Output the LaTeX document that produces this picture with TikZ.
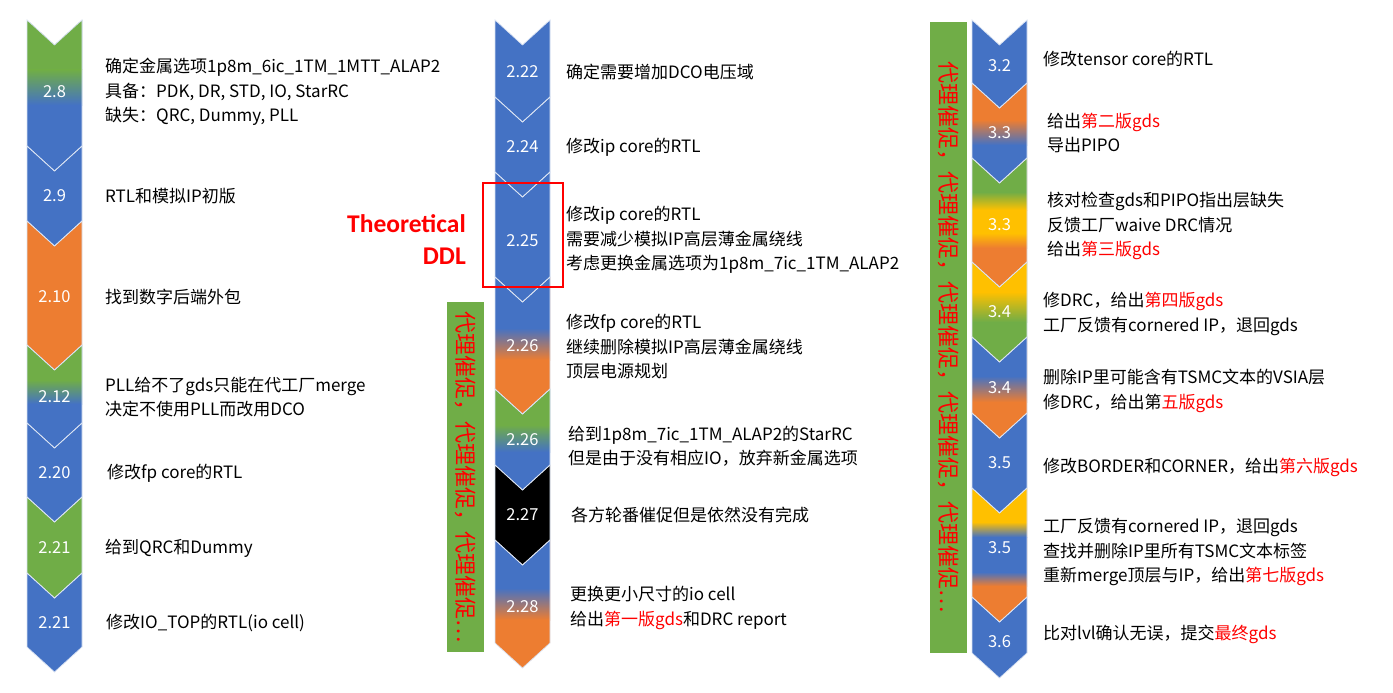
\documentclass[tikz,border=0pt]{standalone}
\usepackage{fontspec}
\usetikzlibrary{positioning}
\newfontfamily\cjk{Noto Sans CJK SC}
\newfontfamily\ddlfont{Carlito}
\definecolor{chblue}{HTML}{4472C4}
\definecolor{chorange}{HTML}{ED7D31}
\definecolor{chgreen}{HTML}{70AD47}
\definecolor{chyellow}{HTML}{FFC000}
\definecolor{ddlred}{HTML}{FF0000}
\tikzset{
  datelabel/.style={text=white, font=\cjk\fontsize{16.5}{18}\selectfont, inner sep=0pt},
  note/.style={anchor=west, align=left, font=\cjk\fontsize{17}{24.5}\selectfont, inner sep=0pt},
  urgebar/.style={fill=chgreen, text=ddlred, rotate=-90, minimum height=37, font=\cjk\fontsize{22}{22}\selectfont, inner sep=0pt},
  ddltext/.style={text=ddlred, font=\ddlfont\bfseries\fontsize{25.5}{32}\selectfont, align=right, anchor=east, inner sep=0pt},
  ddlbox/.style={draw=ddlred, line width=2, minimum width=80, minimum height=104},
  chevborder/.style={draw=white!80!chblue, line width=0.7}
}
\newcommand{\chevpath}[3]{(#1-27.5,#2) -- (#1,#2+25) -- (#1+27.5,#2) -- (#1+27.5,#3) -- (#1,#3+25) -- (#1-27.5,#3) -- cycle}
\newcommand{\red}[1]{\textcolor{ddlred}{#1}}

\begin{document}
\begin{tikzpicture}[x=1pt, y=-1pt]
  \useasboundingbox[fill=white] (0,0) rectangle (1393,693);

  % chevrons, solid fill first
  \foreach \top/\bot/\col in {20/146/chblue, 146/221/chblue, 221/345/chorange, 345/423/chblue,
      423/497/chblue, 497/573/chgreen, 573/647/chblue}
    \fill[\col] \chevpath{54.5}{\top}{\bot};
  \foreach \top/\bot/\col in {20/97/chblue, 97/172/chblue, 172/277/chblue, 277/389/chorange,
      389/465/chblue, 465/540/black, 540/643/chorange}
    \fill[\col] \chevpath{522.5}{\top}{\bot};
  \foreach \top/\bot/\col in {20/83/chblue, 83/158/chblue, 158/262/chorange, 262/337/chgreen,
      337/413/chorange, 413/488/chblue, 488/597/chorange, 597/653/chblue}
    \fill[\col] \chevpath{999.5}{\top}{\bot};

  % colour blends
  \begin{scope}
    \clip \chevpath{54.5}{20}{146};
    \fill[chgreen] (20,0) rectangle (90,70);
    \shade[top color=chgreen, bottom color=chblue] (20,70) rectangle (90,105);
  \end{scope}
  \begin{scope}
    \clip \chevpath{54.5}{345}{423};
    \fill[chgreen] (20,330) rectangle (90,380);
    \shade[top color=chgreen, bottom color=chblue] (20,380) rectangle (90,404);
  \end{scope}
  \begin{scope}
    \clip \chevpath{522.5}{277}{389};
    \fill[chblue] (490,260) rectangle (560,328);
    \shade[top color=chblue, bottom color=chorange] (490,328) rectangle (560,360);
  \end{scope}
  \begin{scope}
    \clip \chevpath{522.5}{389}{465};
    \fill[chgreen] (490,380) rectangle (560,425);
    \shade[top color=chgreen, bottom color=chblue] (490,425) rectangle (560,452);
  \end{scope}
  \begin{scope}
    \clip \chevpath{522.5}{540}{643};
    \fill[chblue] (490,530) rectangle (560,588);
    \shade[top color=chblue, bottom color=chorange] (490,588) rectangle (560,620);
  \end{scope}
  \begin{scope}
    \clip \chevpath{999.5}{83}{158};
    \fill[chorange] (965,70) rectangle (1035,120);
    \shade[top color=chorange, bottom color=chblue] (965,120) rectangle (1035,145);
  \end{scope}
  \begin{scope}
    \clip \chevpath{999.5}{158}{262};
    \fill[chgreen] (965,150) rectangle (1035,192);
    \shade[top color=chgreen, bottom color=chyellow] (965,192) rectangle (1035,210);
    \fill[chyellow] (965,210) rectangle (1035,233);
    \shade[top color=chyellow, bottom color=chorange] (965,233) rectangle (1035,248);
  \end{scope}
  \begin{scope}
    \clip \chevpath{999.5}{262}{337};
    \fill[chyellow] (965,250) rectangle (1035,292);
    \shade[top color=chyellow, bottom color=chgreen] (965,292) rectangle (1035,322);
  \end{scope}
  \begin{scope}
    \clip \chevpath{999.5}{337}{413};
    \fill[chblue] (965,330) rectangle (1035,376);
    \shade[top color=chblue, bottom color=chorange] (965,376) rectangle (1035,402);
  \end{scope}
  \begin{scope}
    \clip \chevpath{999.5}{488}{597};
    \fill[chyellow] (965,480) rectangle (1035,522);
    \shade[top color=chyellow, bottom color=chblue] (965,522) rectangle (1035,537);
    \fill[chblue] (965,537) rectangle (1035,572);
    \shade[top color=chblue, bottom color=chorange] (965,572) rectangle (1035,586);
  \end{scope}

  % thin outlines
  \foreach \top/\bot in {20/146, 146/221, 221/345, 345/423, 423/497, 497/573, 573/647}
    \draw[chevborder] \chevpath{54.5}{\top}{\bot};
  \foreach \top/\bot in {20/97, 97/172, 172/277, 277/389, 389/465, 465/540, 540/643}
    \draw[chevborder] \chevpath{522.5}{\top}{\bot};
  \foreach \top/\bot in {20/83, 83/158, 158/262, 262/337, 337/413, 413/488, 488/597, 597/653}
    \draw[chevborder] \chevpath{999.5}{\top}{\bot};

  % dates
  \node[datelabel] (d28) at (54.5,92) {2.8};
  \node[datelabel] (d29) at (54.5,196) {2.9};
  \node[datelabel] (d210) at (54.5,297) {2.10};
  \node[datelabel] (d212) at (54.5,397) {2.12};
  \node[datelabel] (d220) at (54.5,473) {2.20};
  \node[datelabel] (d221a) at (54.5,548) {2.21};
  \node[datelabel] (d221b) at (54.5,623) {2.21};
  \node[datelabel] (d222) at (522.5,72) {2.22};
  \node[datelabel] (d224) at (522.5,147) {2.24};
  \node[datelabel] (d225) at (522.5,241) {2.25};
  \node[datelabel] (d226a) at (522.5,346) {2.26};
  \node[datelabel] (d226b) at (522.5,440) {2.26};
  \node[datelabel] (d227) at (522.5,515) {2.27};
  \node[datelabel] (d228) at (522.5,607) {2.28};
  \node[datelabel] (d32) at (999.5,66) {3.2};
  \node[datelabel] (d33a) at (999.5,133) {3.3};
  \node[datelabel] (d33b) at (999.5,225) {3.3};
  \node[datelabel] (d34a) at (999.5,312) {3.4};
  \node[datelabel] (d34b) at (999.5,388) {3.4};
  \node[datelabel] (d35a) at (999.5,463) {3.5};
  \node[datelabel] (d35b) at (999.5,548) {3.5};
  \node[datelabel] (d36) at (999.5,642) {3.6};

  % notes, left column
  \node[note] (n28) at (105,92) {确定金属选项1p8m\_6ic\_1TM\_1MTT\_ALAP2\\具备：PDK, DR, STD, IO, StarRC\\缺失：QRC, Dummy, PLL};
  \node[note] (n29) at (105,196) {RTL和模拟IP初版};
  \node[note] (n210) at (105,297) {找到数字后端外包};
  \node[note] (n212) at (105,397) {PLL给不了gds只能在代工厂merge\\决定不使用PLL而改用DCO};
  \node[note] (n220) at (107,473) {修改fp core的RTL};
  \node[note] (n221a) at (105,548) {给到QRC和Dummy};
  \node[note] (n221b) at (106,623) {修改IO\_TOP的RTL(io cell)};

  % notes, middle column
  \node[note] (n222) at (566,72) {确定需要增加DCO电压域};
  \node[note] (n224) at (566,147) {修改ip core的RTL};
  \node[note] (n225) at (566,240) {修改ip core的RTL\\需要减少模拟IP高层薄金属绕线\\考虑更换金属选项为1p8m\_7ic\_1TM\_ALAP2};
  \node[note] (n226a) at (566,347) {修改fp core的RTL\\继续删除模拟IP高层薄金属绕线\\顶层电源规划};
  \node[note] (n226b) at (568,446) {给到1p8m\_7ic\_1TM\_ALAP2的StarRC\\但是由于没有相应IO，放弃新金属选项};
  \node[note] (n227) at (571,515) {各方轮番催促但是依然没有完成};
  \node[note] (n228) at (570,608) {更换更小尺寸的io cell\\给出\red{第一版gds}和DRC report};

  % notes, right column
  \node[note] (n32) at (1043,59) {修改tensor core的RTL};
  \node[note] (n33a) at (1047,133) {给出\red{第二版gds}\\导出PIPO};
  \node[note] (n33b) at (1047,226) {核对检查gds和PIPO指出层缺失\\反馈工厂waive DRC情况\\给出\red{第三版gds}};
  \node[note] (n34a) at (1043,314) {修DRC，给出\red{第四版gds}\\工厂反馈有cornered IP，退回gds};
  \node[note] (n34b) at (1043,391) {删除IP里可能含有TSMC文本的VSIA层\\修DRC，给出第\red{五版gds}};
  \node[note] (n35a) at (1043,467) {修改BORDER和CORNER，给出\red{第六版gds}};
  \node[note] (n35b) at (1043,552) {工厂反馈有cornered IP，退回gds\\查找并删除IP里所有TSMC文本标签\\重新merge顶层与IP，给出\red{第七版gds}};
  \node[note] (n36) at (1043,634) {比对lvl确认无误，提交\red{最终gds}};

  % deadline mark and reminder bars
  \node[ddlbox] (ddl) at (523,235) {};
  \node[ddltext] (ddlnote) at (466,240) {Theoretical\\DDL};
  \node[urgebar, minimum width=350] (urge1) at (465.5,477) {代理催促，代理催促，代理催促…};
  \node[urgebar, minimum width=631] (urge2) at (948.5,337.5) {代理催促，代理催促，代理催促，代理催促，代理催促…};
\end{tikzpicture}
\end{document}
